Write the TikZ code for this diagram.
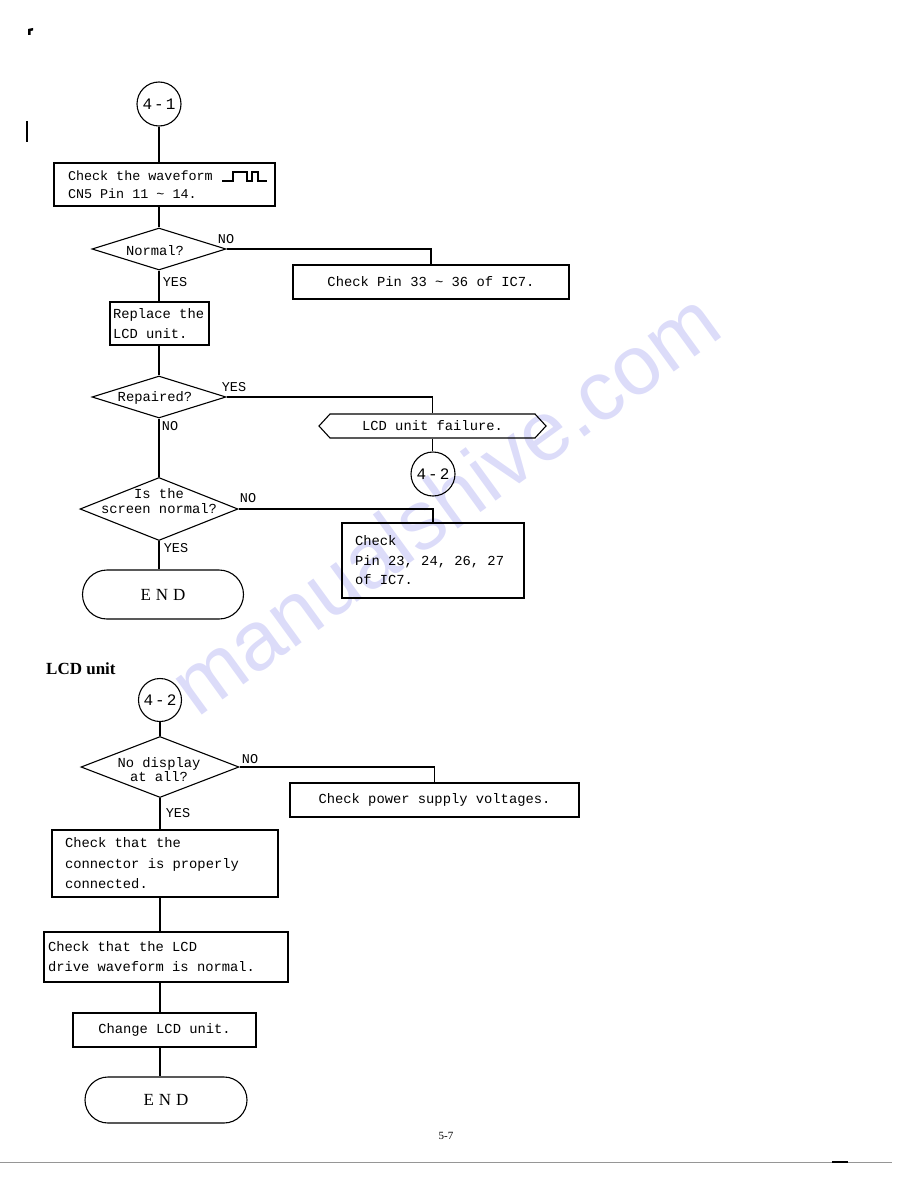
\documentclass[tikz,border=0pt]{standalone}
\usepackage{fontspec}
\setmainfont{Liberation Serif}
\newfontfamily\monof[WordSpace={1,0,0}]{Liberation Mono}
\newfontfamily\wmfont{Liberation Sans}
\usetikzlibrary{shapes.geometric,shapes.misc,shapes.symbols}
\definecolor{wmcol}{RGB}{220,220,249}
\definecolor{rulegray}{RGB}{150,150,150}
\newcommand{\fixsp}{\spaceskip=0pt\xspaceskip=0pt\relax}
\begin{document}
\begin{tikzpicture}[x=1pt,y=-1pt,
  ln/.style={line width=1.1pt},
  box/.style={draw, line width=1.1pt, inner sep=0pt, font=\monof\fontsize{13.8}{20}\selectfont},
  dia/.style={draw, diamond, line width=1.1pt, inner sep=0pt},
  dtext/.style={font=\monof\fontsize{13.8}{15}\selectfont, align=center, inner sep=0pt},
  yn/.style={font=\monof\fontsize{13.5}{14}\selectfont, inner sep=0pt},
  conn/.style={draw, circle, line width=1.1pt, minimum size=44pt, inner sep=0pt, font=\monof\fontsize{16}{16}\selectfont},
  term/.style={draw, rounded rectangle, line width=1.1pt, inner sep=0pt, font=\fontsize{17}{17}\selectfont}
]
\useasboundingbox (0,0) rectangle (918,1188);

% watermark
\node[font=\wmfont\fontsize{84}{84}\selectfont, text=wmcol, rotate=36, anchor=base west, inner sep=0pt] (wm) at (197,719) {manualshive.com};

% scan marks
\fill (28,29) -- (33,28) -- (33,30.5) -- (30.5,31) -- (30.5,35) -- (28,35) -- cycle;
\draw[line width=1.3pt] (27,121) -- (27,142);

% ---------- upper chart ----------
\node[conn] (c41) at (159,104) {4\kern2pt-\kern2pt1};
\node[box, minimum width=221, minimum height=43, text width=193, inner xsep=14, align=left, font=\monof\fontsize{13.4}{18}\selectfont] (b1) at (164.5,184.5) {\fixsp Check the waveform\\CN5 Pin 11 \textasciitilde{} 14.};
\draw[ln] (222,181) -- (233,181) -- (233,172) -- (247,172) -- (247,181) -- (252,181) -- (252,172) -- (258,172) -- (258,181) -- (267,181);

\node[dia, minimum width=134, minimum height=42] (dnorm) at (159,249) {};
\node[dtext] (tnorm) at (155,251) {Normal?};
\node[box, minimum width=276, minimum height=34] (b33) at (431,282) {Check Pin 33 \textasciitilde{} 36 of IC7.};
\node[box, minimum width=99, minimum height=43, text width=93, inner xsep=3, align=left] (brep) at (159.5,323.5) {\fixsp Replace the\\LCD unit.};

\node[dia, minimum width=134, minimum height=42] (drep) at (159,397) {};
\node[dtext] (trep) at (155,398) {Repaired?};
\node[box, signal, signal to=east and west, signal pointer angle=95, minimum width=227, minimum height=24] (hfail) at (432.5,426) {LCD unit failure.};
\node[conn] (c42a) at (433,474) {4\kern2pt-\kern2pt2};

\node[dia, minimum width=158, minimum height=63] (dscr) at (159,509) {};
\node[dtext] (tscr) at (159,501) {Is the\\screen normal?};
\node[box, minimum width=182, minimum height=75, text width=156, inner xsep=13, align=left, font=\monof\fontsize{13.8}{19.5}\selectfont] (b23) at (433,560.5) {\fixsp Check\\Pin 23, 24, 26, 27\\of IC7.};
\node[term, minimum width=161, minimum height=49] (end1) at (163,594.5) {E\hspace{5pt}N\hspace{5pt}D};

\node[yn] (no1) at (226,239) {NO};
\node[yn] (yes1) at (175,282) {YES};
\node[yn] (yes2) at (234,387) {YES};
\node[yn] (no2) at (170,426) {NO};
\node[yn] (no3) at (248,498) {NO};
\node[yn] (yes3) at (176,548) {YES};

\draw[ln] (c41.south) -- (b1.north -| c41);
\draw[ln] (b1.south -| c41) -- (dnorm.north);
\draw[ln] (dnorm.east) -| (b33.north);
\draw[ln] (dnorm.south) -- (brep.north -| dnorm);
\draw[ln] (brep.south -| drep) -- (drep.north);
\draw[ln] (drep.east) -| (hfail.north);
\draw[ln] (hfail.south) -- (hfail.south |- c42a.north);
\draw[ln] (drep.south) -- (dscr.north);
\draw[ln] (dscr.east) -| (b23.north);
\draw[ln] (dscr.south) -- (dscr.south |- end1.north);

% ---------- lower chart ----------
\node[font=\bfseries\fontsize{17}{17}\selectfont, anchor=base west, inner sep=0pt] (title) at (46,674) {LCD unit};
\node[conn, minimum size=43] (c42b) at (160,700) {4\kern2pt-\kern2pt2};
\node[dia, minimum width=158, minimum height=61] (dnod) at (160,767) {};
\node[dtext, font=\monof\fontsize{13.8}{14}\selectfont] (tnod) at (159,770) {No display\\at all?};
\node[box, minimum width=289, minimum height=34] (bpow) at (434.5,800) {Check power supply voltages.};
\node[box, minimum width=226, minimum height=67, text width=200, inner xsep=13, align=left, font=\monof\fontsize{13.8}{20.5}\selectfont] (bconn) at (165,863.5) {\fixsp Check that the\\connector is properly\\connected.};
\node[box, minimum width=244, minimum height=50, text width=236, inner xsep=4, align=left] (bdrive) at (166,957) {\fixsp Check that the LCD\\drive waveform is normal.};
\node[box, minimum width=183, minimum height=34] (bchange) at (164.5,1030) {Change LCD unit.};
\node[term, minimum width=162, minimum height=46] (end2) at (166,1100) {E\hspace{5pt}N\hspace{5pt}D};

\node[yn] (no4) at (250,759) {NO};
\node[yn] (yes4) at (178,813) {YES};

\draw[ln] (c42b.south) -- (dnod.north);
\draw[ln] (dnod.east) -| (bpow.north);
\draw[ln] (dnod.south) -- (dnod.south |- bconn.north);
\draw[ln] (bconn.south -| dnod) -- (bdrive.north -| dnod);
\draw[ln] (bdrive.south -| dnod) -- (bchange.north -| dnod);
\draw[ln] (bchange.south -| dnod) -- (end2.north -| dnod);

% ---------- footer ----------
\node[font=\fontsize{11}{11}\selectfont, inner sep=0pt] (pg) at (446,1136) {5-7};
\coordinate (r1) at (0,1162);
\coordinate (r2) at (892,1162);
\coordinate (k1) at (832,1162);
\coordinate (k2) at (848,1162);
\draw[rulegray, line width=1pt] (r1) -- (r2);
\draw[line width=2pt] (k1) -- (k2);
\end{tikzpicture}
\end{document}
